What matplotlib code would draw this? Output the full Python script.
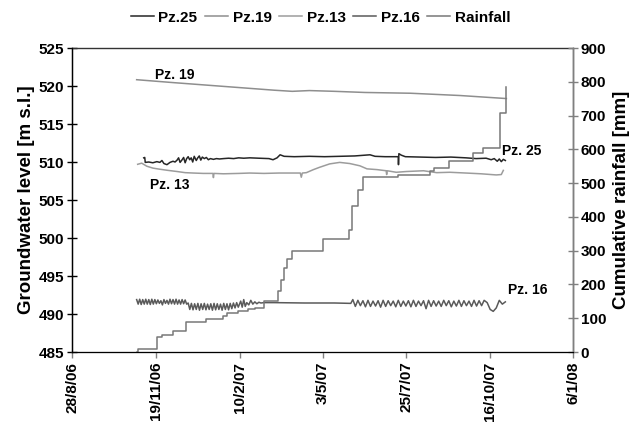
import matplotlib
matplotlib.use("Agg")
import matplotlib.pyplot as plt
import pandas as pd

# ---------------- data ----------------
origin = "2006-08-28"   # day offsets below are counted from this date

tick_labels = ["28/8/06", "19/11/06", "10/2/07", "3/5/07", "25/7/07", "16/10/07", "6/1/08"]
tick_dates = ["2006-08-28", "2006-11-19", "2007-02-10", "2007-05-03", "2007-07-25", "2007-10-16", "2008-01-06"]

pz25_day = [71, 72, 72.5, 76, 80, 84, 87, 89, 91, 94, 97, 100, 102, 104, 105.5, 107, 109, 110.5, 112,
            113.5, 115, 116.5, 118, 119.5, 121, 123, 124.5, 126, 127.5, 129, 131, 133, 135, 137, 140,
            143, 146, 150, 155, 160, 165, 170, 176, 185, 195, 199, 203, 206, 210, 220, 235, 250, 265,
            280, 295, 300, 310, 323, 323.2, 323.6, 326, 330, 345, 360, 375, 390, 400, 410, 415, 418,
            421, 423, 425, 427, 429]
pz25_level = [510.55, 510.6, 509.95, 510.0, 509.9, 510.05, 509.95, 510.2, 509.8, 509.65, 509.95, 510.1,
              510.0, 510.25, 510.55, 509.95, 510.3, 510.6, 509.9, 510.45, 510.7, 510.3, 510.55, 510.0,
              510.75, 510.2, 510.55, 510.8, 510.25, 510.65, 510.45, 510.6, 510.3, 510.45, 510.35,
              510.45, 510.4, 510.45, 510.5, 510.45, 510.55, 510.5, 510.55, 510.5, 510.45, 510.3, 510.55,
              510.95, 510.75, 510.7, 510.75, 510.7, 510.75, 510.8, 510.95, 510.75, 510.7, 510.7, 509.65,
              511.1, 510.9, 510.7, 510.65, 510.6, 510.65, 510.55, 510.45, 510.5, 510.3, 510.45, 510.1,
              510.4, 510.05, 510.35, 510.2]

pz19_day = [64, 100, 150, 200, 218, 235, 260, 290, 335, 384, 430]
pz19_level = [520.83, 520.45, 519.95, 519.45, 519.3, 519.4, 519.3, 519.15, 519.05, 518.75, 518.35]

pz13_day = [65, 69, 74, 80, 87, 95, 104, 112, 120, 130, 139.5, 140, 140.5, 150, 165, 176, 190, 205, 226,
            227, 228, 232, 239, 245, 255, 265, 275, 285, 292, 302, 311, 311.5, 312, 321, 331, 348, 361,
            374, 390, 405, 420, 425, 427]
pz13_level = [509.7, 509.85, 509.45, 509.2, 509.05, 508.9, 508.75, 508.6, 508.55, 508.5, 508.5, 507.95,
              508.5, 508.45, 508.5, 508.55, 508.5, 508.55, 508.55, 508.0, 508.55, 508.6, 509.0, 509.3,
              509.75, 509.95, 509.8, 509.5, 509.1, 509.0, 508.85, 508.35, 508.85, 508.65, 508.75, 508.85,
              508.6, 508.65, 508.55, 508.45, 508.3, 508.35, 508.9]

pz16_day = [64, 65.5, 67, 68.5, 70, 71.5, 73, 74.5, 76, 77.5, 79, 80.5, 82, 83.5, 85, 86.5, 88, 89.5,
            91, 92.5, 94, 95.5, 97, 98.5, 100, 101.5, 103, 104.5, 106, 107.5, 109, 110.5, 112, 113.5,
            115, 116.6, 118.2, 119.8, 121.4, 123, 124.6, 126.2, 127.8, 129.4, 131, 132.6, 134.2, 135.8,
            137.4, 139, 140.6, 142.2, 143.8, 145.4, 147, 148.6, 150.2, 151.8, 153.4, 155, 156.6, 158.2,
            159.8, 161.4, 163, 164.6,
            167, 168.5, 170, 171.5, 173, 175, 177, 179, 181, 183, 185, 187, 190,
            200, 230, 260, 276,
            278, 280.5, 283, 285.5, 288, 290.5, 293, 295.5, 298, 300.5, 303, 305.5, 308, 310.5, 313,
            315.5, 318, 320.5, 323, 325.5, 328, 330.5, 333, 335.5, 338, 340.5, 343, 345.5, 348, 350.5,
            353, 355.5, 358, 360.5, 363, 365.5, 368, 370.5, 373, 375.5, 378, 380.5, 383, 385.5, 388,
            390.5, 393, 395.5, 398, 400.5, 403, 405.5, 408,
            411, 414, 417, 420, 423, 426, 429]
pz16_level = [491.9, 491.3, 491.95, 491.25, 491.9, 491.3, 491.95, 491.3, 491.9, 491.25, 491.95, 491.3,
              491.9, 491.35, 491.85, 491.4, 491.75, 491.2, 491.9, 491.4, 491.8, 491.3, 491.95, 491.35,
              491.9, 491.3, 491.95, 491.3, 491.85, 491.3, 491.9, 491.35, 491.85, 491.3,
              491.45, 490.6, 491.4, 490.55, 491.35, 490.6, 491.4, 490.5, 491.35, 490.6, 491.4, 490.55,
              491.3, 490.6, 491.35, 490.5, 491.4, 490.55, 491.35, 490.6, 491.3, 490.5, 491.4, 490.6,
              491.35, 490.55, 491.4, 490.7, 491.45, 490.8, 491.5, 490.9,
              491.7, 490.9, 491.9, 491.0, 491.5, 491.2, 491.8, 491.3, 491.6, 491.35, 491.55, 491.45, 491.5,
              491.5, 491.45, 491.45, 491.4,
              491.9, 491.0, 491.8, 491.1, 491.75, 490.95, 491.8, 491.0, 491.7, 491.05, 491.75, 490.9,
              491.8, 491.0, 491.75, 491.1, 491.7, 490.95, 491.8, 491.0, 491.7, 491.05, 491.75, 490.95,
              491.8, 491.0, 491.7, 491.1, 491.75, 490.7, 491.8, 491.0, 491.75, 491.05, 491.7, 491.0,
              491.8, 491.1, 491.75, 490.95, 491.7, 491.05, 491.8, 491.0, 491.75, 491.1, 491.7, 491.0,
              491.8, 491.05, 491.75, 491.1, 491.8,
              491.5, 490.6, 490.35, 490.8, 491.8, 491.3, 491.6]

rain_day = [64, 65, 84, 89, 100, 113, 133, 149, 153, 164, 174, 181, 190, 204, 207, 210, 213, 218, 248,
            274, 277, 283, 288, 323, 354, 358, 373, 397, 407, 424, 430]
rain_mm = [0, 8, 45, 50, 61, 90, 98, 106, 115, 122, 128, 131, 152, 180, 214, 248, 276, 298, 334,
           362, 431, 480, 518, 525, 535, 545, 566, 588, 604, 707, 784]

series = [
    ("Pz.25", pz25_day, pz25_level, "#262626"),
    ("Pz.19", pz19_day, pz19_level, "#8e8e8e"),
    ("Pz.13", pz13_day, pz13_level, "#9c9c9c"),
    ("Pz.16", pz16_day, pz16_level, "#5a5a5a"),
]
rain_color = "#787878"

# ---------------- plotting ----------------
plt.rcParams["font.family"] = ["Liberation Sans", "DejaVu Sans"]
plt.rcParams["font.weight"] = "bold"

t0 = pd.Timestamp(origin)
def to_dates(days):
    return t0 + pd.to_timedelta(days, unit="D")

fig = plt.figure(figsize=(6.35, 4.23), dpi=100)
ax = fig.add_axes([0.1134, 0.1678, 0.7890, 0.7187])
ax2 = ax.twinx()

handles = []
for name, d, v, c in series:
    h, = ax.plot(to_dates(d), v, color=c, lw=1.1, label=name)
    handles.append(h)
hr, = ax2.plot(to_dates(rain_day), rain_mm, color=rain_color, lw=1.1, drawstyle="steps-post", label="Rainfall")
handles.append(hr)

ax.set_xlim(pd.Timestamp(tick_dates[0]), pd.Timestamp(tick_dates[-1]))
ax.set_ylim(485, 525)
ax.set_yticks(range(485, 526, 5))
ax2.set_ylim(0, 900)
ax2.set_yticks(range(0, 901, 100))

ax.set_xticks([pd.Timestamp(t) for t in tick_dates])
ax.set_xticklabels(tick_labels, rotation=90, fontsize=11, fontweight="bold")

ax.tick_params(axis="y", direction="inout", length=7, width=1, labelsize=11, pad=2)
ax.tick_params(axis="x", direction="out", length=4, width=1, colors="#808080", labelcolor="black", pad=3)
ax2.tick_params(axis="y", direction="inout", length=7, width=1, labelsize=11, colors="#808080",
                labelcolor="black", pad=2)
for lab in ax.get_yticklabels() + ax2.get_yticklabels():
    lab.set_fontweight("bold")

ax.spines["left"].set_color("black")
ax.spines["top"].set_color("#333333")
ax.spines["bottom"].set_color("#808080")
ax2.spines["right"].set_color("#808080")
ax2.spines["top"].set_visible(False)
for s in ax.spines.values():
    s.set_linewidth(1.0)

ax.set_ylabel("Groundwater level [m s.l.]", fontsize=13.5, fontweight="bold", labelpad=3)
ax2.set_ylabel("Cumulative rainfall [mm]", fontsize=13.5, fontweight="bold", labelpad=5, rotation=90)

# series annotations
ann = dict(fontsize=10, fontweight="bold", ha="left", va="center")
ax.text(to_dates(82), 521.5, "Pz. 19", **ann)
ax.text(to_dates(426), 511.5, "Pz. 25", **ann)
ax.text(to_dates(77), 507.0, "Pz. 13", **ann)
ax.text(to_dates(432), 493.1, "Pz. 16", **ann)

fig.legend(handles=handles, loc="center", bbox_to_anchor=(0.505, 0.958), ncol=5, frameon=False,
           prop={"weight": "bold", "size": 11}, handlelength=1.5, handletextpad=0.3, columnspacing=0.5)

fig.savefig("out.png", dpi=100)
